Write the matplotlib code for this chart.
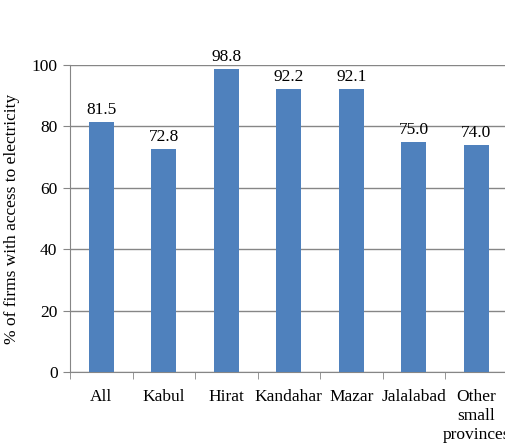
import matplotlib.pyplot as plt
import numpy as np

regions = ["All", "Kabul", "Hirat", "Kandahar", "Mazar", "Jalalabad", "Other\nsmall\nprovinces"]
access = [81.5, 72.8, 98.8, 92.2, 92.1, 75.0, 74.0]

plt.rcParams["font.family"] = ["Liberation Serif", "DejaVu Serif"]
plt.rcParams["font.size"] = 12

fig = plt.figure(figsize=(5.05, 4.47), dpi=100)
ax = fig.add_axes([70 / 505, 1 - 372 / 447, 437.5 / 505, 307 / 447])

x = np.arange(len(regions))
bars = ax.bar(x, access, width=0.4, color="#4F81BD", zorder=3)
for b, v in zip(bars, access):
    ax.text(b.get_x() + b.get_width() / 2, v + 1.3, "%.1f" % v,
            ha="center", va="bottom", fontsize=12.5)

ax.set_xlim(-0.5, len(regions) - 0.5)
ax.set_ylim(0, 100)
ax.set_yticks(range(0, 101, 20))
ax.yaxis.grid(True, color="#868686", linewidth=1, zorder=0)
ax.set_xticks(x)
ax.set_xticklabels(regions, linespacing=1.28)
ax.set_xticks(np.arange(-0.5, len(regions) + 0.5), minor=True)
ax.tick_params(axis="x", which="major", length=0, pad=12, labelsize=12.5)
ax.tick_params(axis="x", which="minor", length=5, color="#868686", direction="out")
ax.tick_params(axis="y", length=5, color="#868686", labelsize=12.5, pad=4)

for s in ["top", "right"]:
    ax.spines[s].set_visible(False)
for s in ["left", "bottom"]:
    ax.spines[s].set_color("#868686")

ax.set_ylabel("% of firms with access to electricity", fontsize=12.5, labelpad=8)

fig.savefig("out.png", dpi=100)
